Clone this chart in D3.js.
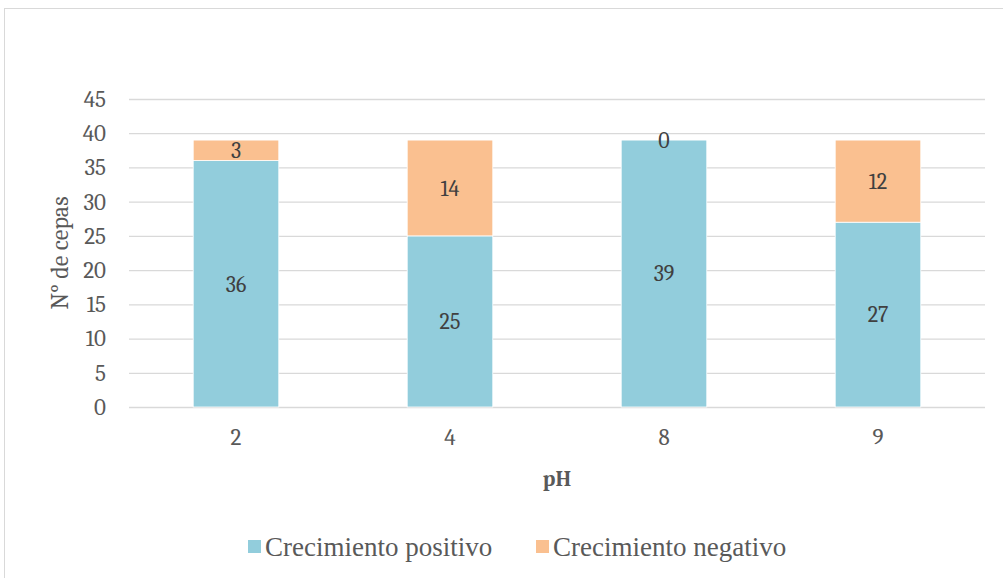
<!DOCTYPE html>
<html><head><meta charset="utf-8">
<script src="https://cdn.jsdelivr.net/npm/d3@7"></script>
<style>body{margin:0;background:#fff;} svg{display:block;}</style>
</head><body>
<svg id="c" width="1003" height="578"></svg>
<script>
const categories = ["2", "4", "8", "9"];
const positivo = [36, 25, 39, 27];
const negativo = [3, 14, 0, 12];
const seriesNames = ["Crecimiento positivo", "Crecimiento negativo"];
const seriesColors = ["#92CDDC", "#FAC090"];
const yTicks = [0, 5, 10, 15, 20, 25, 30, 35, 40, 45];

const numFont = '"Caladea"';
const legFont = '"Liberation Serif"';
const txt = "#595959";

const svg = d3.select("#c");
const m = {left: 129, top: 99};
const pw = 985 - 129, ph = 407 - 99;

svg.append("rect").attr("x", 4.5).attr("y", 8.5).attr("width", 1010).attr("height", 600)
  .attr("fill", "#fff").attr("stroke", "#d9d9d9").attr("stroke-width", 1);

const g = svg.append("g").attr("transform", `translate(${m.left},${m.top})`);
const x = d3.scaleBand().domain(categories).range([0, pw]).paddingInner(0.6).paddingOuter(0.3);
const y = d3.scaleLinear().domain([0, 45]).range([ph, 0]);

g.append("g").selectAll("line").data(yTicks).join("line")
  .attr("x1", 0).attr("x2", pw).attr("y1", d => y(d) + 0.5).attr("y2", d => y(d) + 0.5)
  .attr("stroke", "#d9d9d9").attr("stroke-width", 1.3);

const yAx = g.append("g").call(d3.axisLeft(y).tickValues(yTicks).tickSize(0).tickPadding(23));
yAx.select(".domain").remove();
yAx.selectAll("text").style("font-family", numFont).style("font-size", "23px").attr("fill", txt);

const xAx = g.append("g").attr("transform", `translate(0,${ph})`).call(d3.axisBottom(x).tickSize(0).tickPadding(22));
xAx.select(".domain").remove();
xAx.selectAll("text").style("font-family", numFont).style("font-size", "23px").attr("fill", txt);

const stacked = d3.stack().keys([0, 1]).value((d, k) => d[k])(categories.map((c, i) => [positivo[i], negativo[i]]));

stacked.forEach((layer, li) => {
  g.append("g").selectAll("rect").data(layer).join("rect")
    .attr("x", (d, i) => x(categories[i]))
    .attr("width", x.bandwidth())
    .attr("y", d => y(d[1]))
    .attr("height", d => y(d[0]) - y(d[1]))
    .attr("fill", seriesColors[li])
    .attr("stroke", "#fff").attr("stroke-width", 0.8);
  g.append("g").selectAll("text").data(layer).join("text")
    .attr("x", (d, i) => x(categories[i]) + x.bandwidth() / 2)
    .attr("y", d => y((d[0] + d[1]) / 2))
    .attr("dy", "0.35em")
    .attr("text-anchor", "middle")
    .style("font-family", numFont).style("font-size", "22px").attr("fill", "#404040")
    .text(d => d[1] - d[0]);
});

svg.append("text").attr("transform", `translate(68,${m.top + ph / 2}) rotate(-90)`)
  .attr("text-anchor", "middle").style("font-family", numFont).style("font-size", "24px").attr("fill", txt)
  .text("N° de cepas");

svg.append("text").attr("x", m.left + pw / 2).attr("y", 486)
  .attr("text-anchor", "middle").style("font-family", numFont).style("font-size", "22px")
  .style("font-weight", "bold").attr("fill", txt).text("pH");

const legX = [248, 536];
seriesNames.forEach((s, i) => {
  const lg = svg.append("g").attr("transform", `translate(${legX[i]},540)`);
  lg.append("rect").attr("x", 0).attr("y", 0).attr("width", 13).attr("height", 13).attr("fill", seriesColors[i]);
  lg.append("text").attr("x", 17).attr("y", 7).attr("dy", "0.35em")
    .style("font-family", legFont).style("font-size", "27px").attr("fill", txt).text(s);
});
</script>
</body></html>
